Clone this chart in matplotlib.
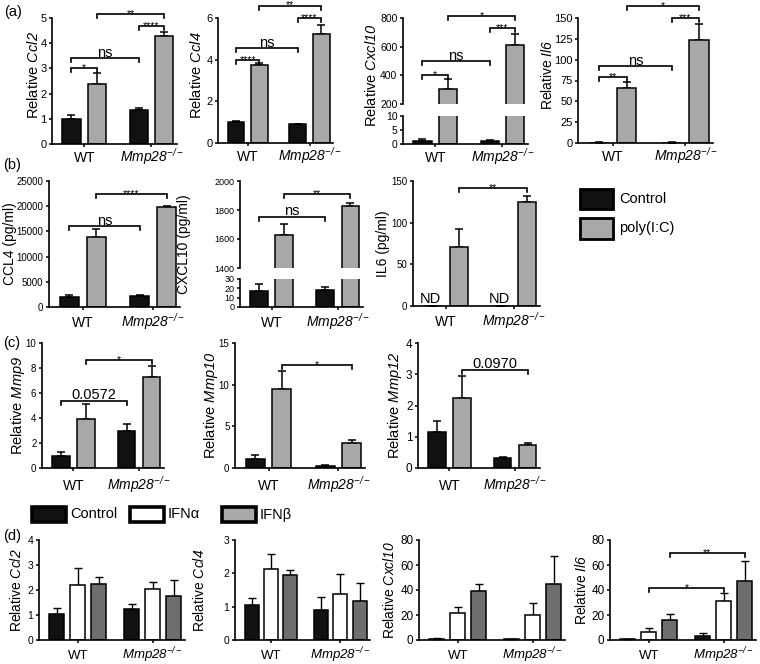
import matplotlib
matplotlib.use('Agg')
import matplotlib.pyplot as plt
from matplotlib.patches import Rectangle
import numpy as np

plt.rcParams['font.family'] = ['Liberation Sans', 'DejaVu Sans']
plt.rcParams['mathtext.fontset'] = 'custom'
plt.rcParams['mathtext.rm'] = 'Liberation Sans:italic'
plt.rcParams['mathtext.it'] = 'Liberation Sans:italic'
plt.rcParams['mathtext.bf'] = 'Liberation Sans:bold:italic'

# ---------------- data ----------------
GROUPS = ['WT', r'$Mmp28^{-/-}$']

# (a) relative mRNA, Control vs poly(I:C)
a_ccl2_ctrl, a_ccl2_ctrl_err = [1.0, 1.33], [0.15, 0.10]
a_ccl2_pic, a_ccl2_pic_err = [2.4, 4.3], [0.42, 0.15]
a_ccl4_ctrl, a_ccl4_ctrl_err = [1.0, 0.9], [0.07, 0.03]
a_ccl4_pic, a_ccl4_pic_err = [3.75, 5.25], [0.10, 0.42]
a_cxcl10_ctrl, a_cxcl10_ctrl_err = [1.0, 1.0], [0.8, 0.5]
a_cxcl10_pic, a_cxcl10_pic_err = [305, 615], [70, 75]
a_il6_ctrl, a_il6_ctrl_err = [0.5, 0.5], [0.3, 0.3]
a_il6_pic, a_il6_pic_err = [66, 124], [7, 19]

# (b) protein (pg/ml)
b_ccl4_ctrl, b_ccl4_ctrl_err = [2000, 2200], [300, 100]
b_ccl4_pic, b_ccl4_pic_err = [13800, 19800], [1600, 300]
b_cxcl10_ctrl, b_cxcl10_ctrl_err = [17, 18], [8, 3]
b_cxcl10_pic, b_cxcl10_pic_err = [1630, 1830], [75, 20]
b_il6_ctrl, b_il6_ctrl_err = [0, 0], [0, 0]   # not detected
b_il6_pic, b_il6_pic_err = [71, 125], [21, 7]

# (c) MMPs
c_mmp9_ctrl, c_mmp9_ctrl_err = [1.0, 3.0], [0.25, 0.5]
c_mmp9_pic, c_mmp9_pic_err = [3.95, 7.3], [1.2, 0.9]
c_mmp10_ctrl, c_mmp10_ctrl_err = [1.1, 0.25], [0.45, 0.1]
c_mmp10_pic, c_mmp10_pic_err = [9.5, 3.0], [2.1, 0.4]
c_mmp12_ctrl, c_mmp12_ctrl_err = [1.15, 0.33], [0.37, 0.03]
c_mmp12_pic, c_mmp12_pic_err = [2.25, 0.75], [0.7, 0.04]

# (d) Control / IFNa / IFNb
d_ccl2_ctrl, d_ccl2_ctrl_err = [1.04, 1.24], [0.23, 0.19]
d_ccl2_ifna, d_ccl2_ifna_err = [2.2, 2.04], [0.69, 0.27]
d_ccl2_ifnb, d_ccl2_ifnb_err = [2.24, 1.77], [0.29, 0.63]
d_ccl4_ctrl, d_ccl4_ctrl_err = [1.05, 0.9], [0.2, 0.4]
d_ccl4_ifna, d_ccl4_ifna_err = [2.12, 1.37], [0.46, 0.6]
d_ccl4_ifnb, d_ccl4_ifnb_err = [1.95, 1.18], [0.15, 0.54]
d_cxcl10_ctrl, d_cxcl10_ctrl_err = [1.2, 0.5], [0.6, 0.3]
d_cxcl10_ifna, d_cxcl10_ifna_err = [21.3, 20.0], [4.8, 9.3]
d_cxcl10_ifnb, d_cxcl10_ifnb_err = [39.5, 44.8], [5.3, 22.4]
d_il6_ctrl, d_il6_ctrl_err = [0.5, 3.5], [0.5, 2.4]
d_il6_ifna, d_il6_ifna_err = [6.7, 31.2], [3.2, 6.7]
d_il6_ifnb, d_il6_ifnb_err = [16.0, 47.5], [4.5, 15.7]

# brackets: (bar_i, bar_j, y, label); bars numbered group-major
a_ccl2_br = [(0, 1, 3.0, '*'), (0, 2, 3.4, 'ns'), (2, 3, 4.7, '****'), (1, 3, 5.15, '**')]
a_ccl4_br = [(0, 1, 4.0, '****'), (0, 2, 4.55, 'ns'), (2, 3, 6.0, '****'), (1, 3, 6.6, '**')]
a_cxcl10_br = [(0, 1, 404, '*'), (0, 2, 497, 'ns'), (2, 3, 730, '***'), (1, 3, 811, '*')]
a_il6_br = [(0, 1, 79, '**'), (0, 2, 92, 'ns'), (2, 3, 150, '***'), (1, 3, 164, '*')]
b_ccl4_br = [(0, 2, 16000, 'ns'), (1, 3, 22500, '****')]
b_cxcl10_br = [(0, 2, 1753, 'ns'), (1, 3, 1910, '**')]
b_il6_br = [(1, 3, 141, '**')]
c_mmp9_br = [(0, 2, 5.4, '0.0572'), (1, 3, 8.67, '*')]
c_mmp10_br = [(1, 3, 12.4, '*')]
c_mmp12_br = [(1, 3, 3.15, '0.0970')]
d_il6_br = [(1, 4, 41.9, '*'), (2, 5, 69.8, '**')]

BLACK = '#111111'
GREY = '#a8a8a8'
DGREY = '#6e6e6e'
WHITE = '#ffffff'

# ---------------- layout helpers ----------------
W, H = 760, 664
fig = plt.figure(figsize=(7.6, 6.64), dpi=100)
TL = 2.5  # tick length (pt)


def ax_px(l, t, r, b):
    return fig.add_axes([l / W, 1 - b / H, (r - l) / W, (b - t) / H])


def style(ax, fs, xpad, xfs, bottom=True):
    ax.spines['top'].set_visible(False)
    ax.spines['right'].set_visible(False)
    ax.spines['left'].set_linewidth(1.2)
    ax.spines['bottom'].set_linewidth(1.2)
    ax.tick_params(axis='y', direction='out', length=TL, width=1.1, labelsize=fs, pad=1.5)
    ax.tick_params(axis='x', direction='out', length=TL, width=1.1, labelsize=xfs, pad=xpad)
    if not bottom:
        ax.spines['bottom'].set_visible(False)
        ax.tick_params(axis='x', bottom=False, labelbottom=False)
    plt.setp(ax.get_xticklabels(), va='baseline')


TWO_OFF = [-0.19, 0.19]
TWO_W = 0.27
THREE_OFF = [-0.28, 0.0, 0.28]
THREE_W = 0.2


def draw(ax, series, colors, offsets, width, ylim, yticks, fs, xlim, base_px, xfs=10,
         bottom=True, elw=1.1):
    for (m, e), c, o in zip(series, colors, offsets):
        x = np.arange(len(m)) + o
        ax.bar(x, m, width, color=c, edgecolor='black', linewidth=1.1, zorder=2)
        ax.errorbar(x, m, yerr=[np.zeros(len(m)), e], fmt='none', ecolor='black',
                    elinewidth=elw, capsize=3, capthick=elw, zorder=1)
    ax.set_ylim(*ylim)
    ax.set_yticks(yticks)
    ax.set_xlim(*xlim)
    ax.set_xticks(range(len(GROUPS)))
    ax.set_xticklabels(GROUPS)
    style(ax, fs, base_px * 0.72 - TL, xfs, bottom)


def barx(idx, offsets):
    n = len(offsets)
    return idx // n + offsets[idx % n]


def brackets(ax, brs, offsets, hpx):
    y0, y1 = ax.get_ylim()
    drop = (y1 - y0) * 4.0 / hpx
    for i, j, y, lab in brs:
        x1, x2 = barx(i, offsets), barx(j, offsets)
        ax.plot([x1, x1, x2, x2], [y - drop, y, y, y - drop], color='black', lw=1.2,
                clip_on=False, solid_joinstyle='miter')
        if '*' in lab:
            ax.annotate(lab, ((x1 + x2) / 2, y), xytext=(0, -2.2), textcoords='offset points',
                        ha='center', va='baseline', fontsize=7.5, annotation_clip=False)
        else:
            ax.annotate(lab, ((x1 + x2) / 2, y), xytext=(0, 1.2), textcoords='offset points',
                        ha='center', va='baseline', fontsize=10.5, annotation_clip=False)


def ylab(xpx, t, b, text, fs=10):
    fig.text(xpx / W, 1 - (t + b) / 2 / H, text, rotation=90, ha='center', va='center', fontsize=fs)


XL2 = (-0.48, 1.38)
XL3 = (-0.52, 1.43)
PIC_COL = [BLACK, GREY]
D_COL = [BLACK, WHITE, DGREY]

# ---------------- row (a) ----------------
ax = ax_px(52, 18, 177, 144)
draw(ax, [(a_ccl2_ctrl, a_ccl2_ctrl_err), (a_ccl2_pic, a_ccl2_pic_err)], PIC_COL, TWO_OFF, TWO_W,
     (0, 5), range(0, 6), 8, XL2, 17.7)
brackets(ax, a_ccl2_br, TWO_OFF, 126)
ylab(33, 12, 138, r'Relative $Ccl2$', 10.5)

ax = ax_px(218, 18, 333, 143)
draw(ax, [(a_ccl4_ctrl, a_ccl4_ctrl_err), (a_ccl4_pic, a_ccl4_pic_err)], PIC_COL, TWO_OFF, TWO_W,
     (0, 6), [0, 2, 4, 6], 8, XL2, 17.7)
brackets(ax, a_ccl4_br, TWO_OFF, 125)
ylab(197, 12, 138, r'Relative $Ccl4$', 10.5)

axu = ax_px(403, 18, 528, 104)
draw(axu, [(a_cxcl10_ctrl, a_cxcl10_ctrl_err), (a_cxcl10_pic, a_cxcl10_pic_err)], PIC_COL, TWO_OFF,
     TWO_W, (200, 800), [200, 400, 600, 800], 7.5, XL2, 17.7, bottom=False)
brackets(axu, a_cxcl10_br, TWO_OFF, 86)
axl = ax_px(403, 116, 528, 144)
draw(axl, [(a_cxcl10_ctrl, a_cxcl10_ctrl_err), (a_cxcl10_pic, a_cxcl10_pic_err)], PIC_COL, TWO_OFF,
     TWO_W, (0, 10), [0, 5, 10], 7.5, XL2, 17.7)
ylab(372, 12, 138, r'Relative $Cxcl10$', 10.5)

ax = ax_px(578, 18, 713, 143)
draw(ax, [(a_il6_ctrl, a_il6_ctrl_err), (a_il6_pic, a_il6_pic_err)], PIC_COL, TWO_OFF, TWO_W,
     (0, 150), range(0, 151, 25), 8, XL2, 17.7)
brackets(ax, a_il6_br, TWO_OFF, 125)
ylab(548, 12, 138, r'Relative $Il6$', 10)

# ---------------- row (b) ----------------
ax = ax_px(49, 181, 180, 307)
draw(ax, [(b_ccl4_ctrl, b_ccl4_ctrl_err), (b_ccl4_pic, b_ccl4_pic_err)], PIC_COL, TWO_OFF, TWO_W,
     (0, 25000), range(0, 25001, 5000), 7, XL2, 19.7)
brackets(ax, b_ccl4_br, TWO_OFF, 126)
ylab(10, 181, 307, 'CCL4 (pg/ml)', 10)

axu = ax_px(240, 181, 363, 268)
draw(axu, [(b_cxcl10_ctrl, b_cxcl10_ctrl_err), (b_cxcl10_pic, b_cxcl10_pic_err)], PIC_COL, TWO_OFF,
     TWO_W, (1400, 2000), [1400, 1600, 1800, 2000], 6.5, XL2, 19.7, bottom=False)
brackets(axu, b_cxcl10_br, TWO_OFF, 87)
axl = ax_px(240, 279, 363, 307)
draw(axl, [(b_cxcl10_ctrl, b_cxcl10_ctrl_err), (b_cxcl10_pic, b_cxcl10_pic_err)], PIC_COL, TWO_OFF,
     TWO_W, (0, 30), [0, 10, 20, 30], 6.5, XL2, 19.7)
ylab(184, 181, 307, 'CXCL10 (pg/ml)', 10)

ax = ax_px(413, 181, 540, 306)
draw(ax, [(b_il6_ctrl, b_il6_ctrl_err), (b_il6_pic, b_il6_pic_err)], PIC_COL, TWO_OFF, TWO_W,
     (0, 150), [0, 50, 100, 150], 7, XL2, 19.7)
brackets(ax, b_il6_br, TWO_OFF, 125)
for g in range(len(GROUPS)):
    ax.text(g + TWO_OFF[0] - 0.03, 0, 'ND', ha='center', va='bottom', fontsize=10.5)
ylab(383, 181, 306, 'IL6 (pg/ml)', 10)

# legend (b)
for k, (lab, col) in enumerate([('Control', BLACK), ('poly(I:C)', GREY)]):
    t = 189 + k * 29.5
    fig.patches.append(Rectangle((580 / W, 1 - (t + 20) / H), 33 / W, 20 / H, transform=fig.transFigure,
                                 facecolor=col, edgecolor='black', linewidth=2.0))
    fig.text(619 / W, 1 - (t + 10) / H, lab, ha='left', va='center', fontsize=10.5)

# ---------------- row (c) ----------------
ax = ax_px(42, 343, 164, 468)
draw(ax, [(c_mmp9_ctrl, c_mmp9_ctrl_err), (c_mmp9_pic, c_mmp9_pic_err)], PIC_COL, TWO_OFF, TWO_W,
     (0, 10), range(0, 11, 2), 7, XL2, 22)
brackets(ax, c_mmp9_br, TWO_OFF, 125)
ylab(18, 343, 468, r'Relative $Mmp9$', 10.5)

ax = ax_px(235, 343, 365, 468)
draw(ax, [(c_mmp10_ctrl, c_mmp10_ctrl_err), (c_mmp10_pic, c_mmp10_pic_err)], PIC_COL, TWO_OFF, TWO_W,
     (0, 15), [0, 5, 10, 15], 7, XL2, 22)
brackets(ax, c_mmp10_br, TWO_OFF, 125)
ylab(211, 343, 468, r'Relative $Mmp10$', 10.5)

ax = ax_px(418, 343, 540, 468)
draw(ax, [(c_mmp12_ctrl, c_mmp12_ctrl_err), (c_mmp12_pic, c_mmp12_pic_err)], PIC_COL, TWO_OFF, TWO_W,
     (0, 4), range(0, 5), 8.5, XL2, 22)
brackets(ax, c_mmp12_br, TWO_OFF, 125)
ylab(395, 343, 468, r'Relative $Mmp12$', 10.5)

# ---------------- row (d) ----------------
for k, (lab, col) in enumerate([('Control', BLACK), ('IFN\u03b1', WHITE), ('IFN\u03b2', GREY)]):
    lx = [32, 130, 222][k]
    fig.patches.append(Rectangle((lx / W, 1 - 522 / H), 34 / W, 15 / H, transform=fig.transFigure,
                                 facecolor=col, edgecolor='black', linewidth=2.6))
    fig.text((lx + 38) / W, 1 - 514.5 / H, lab, ha='left', va='center', fontsize=10.5)

ax = ax_px(39, 540, 185, 640)
draw(ax, [(d_ccl2_ctrl, d_ccl2_ctrl_err), (d_ccl2_ifna, d_ccl2_ifna_err), (d_ccl2_ifnb, d_ccl2_ifnb_err)],
     D_COL, THREE_OFF, THREE_W, (0, 4), range(0, 5), 7.5, XL3, 19, xfs=9.5, elw=1.0)
ylab(17, 540, 640, r'Relative $Ccl2$', 10)

ax = ax_px(235, 540, 370, 640)
draw(ax, [(d_ccl4_ctrl, d_ccl4_ctrl_err), (d_ccl4_ifna, d_ccl4_ifna_err), (d_ccl4_ifnb, d_ccl4_ifnb_err)],
     D_COL, THREE_OFF, THREE_W, (0, 3), range(0, 4), 7.5, XL3, 19, xfs=9.5, elw=1.0)
ylab(200, 540, 640, r'Relative $Ccl4$', 10)

ax = ax_px(419, 540, 565, 640)
draw(ax, [(d_cxcl10_ctrl, d_cxcl10_ctrl_err), (d_cxcl10_ifna, d_cxcl10_ifna_err),
          (d_cxcl10_ifnb, d_cxcl10_ifnb_err)],
     D_COL, THREE_OFF, THREE_W, (0, 80), range(0, 81, 20), 8.5, XL3, 19, xfs=9.5, elw=1.0)
ylab(389, 540, 640, r'Relative $Cxcl10$', 10)

ax = ax_px(610, 540, 756, 640)
draw(ax, [(d_il6_ctrl, d_il6_ctrl_err), (d_il6_ifna, d_il6_ifna_err), (d_il6_ifnb, d_il6_ifnb_err)],
     D_COL, THREE_OFF, THREE_W, (0, 80), range(0, 81, 20), 8.5, XL3, 19, xfs=9.5, elw=1.0)
brackets(ax, d_il6_br, THREE_OFF, 100)
ylab(582, 540, 640, r'Relative $Il6$', 10)

# panel letters
for lab, x, y in [('(a)', 4, 12), ('(b)', 3, 165), ('(c)', 3, 343), ('(d)', 3, 536)]:
    fig.text(x / W, 1 - y / H, lab, ha='left', va='center', fontsize=10.5)

fig.savefig('out.png', dpi=100)
